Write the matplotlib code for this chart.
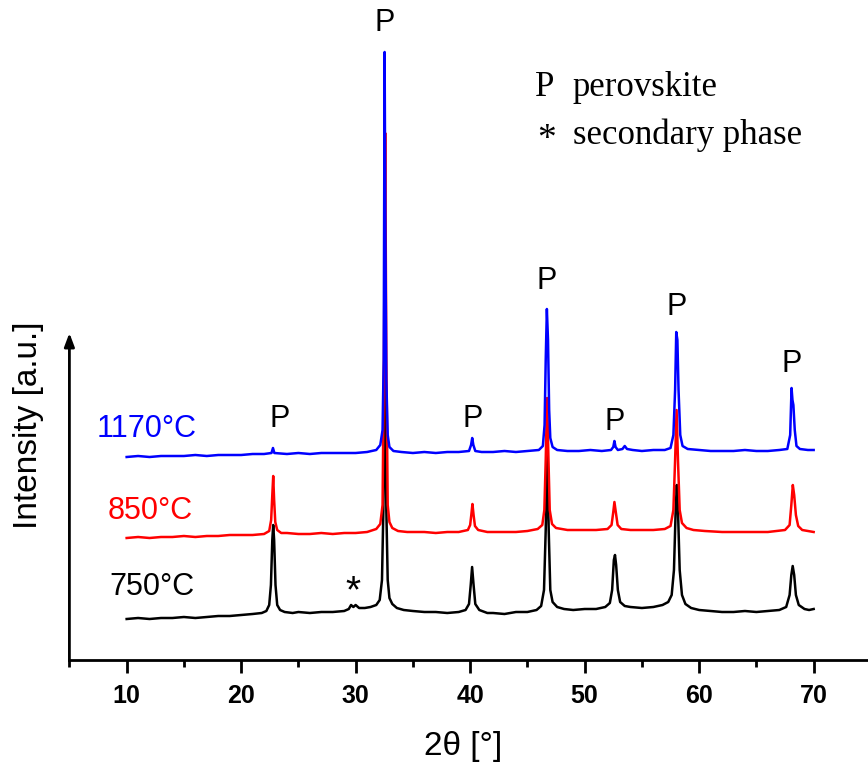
import numpy as np
import matplotlib.pyplot as plt
from matplotlib.ticker import MultipleLocator

plt.rcParams['font.family'] = ['Liberation Sans', 'DejaVu Sans']

# 750 C pattern (black), 2theta and intensity
x750 = [10, 11, 12, 13, 14, 15, 16, 17, 18, 19, 20, 21, 21.8, 22.2, 22.45, 22.6, 22.72,
        22.8, 22.88, 23.0, 23.15, 23.4, 23.8, 24.5, 25, 26, 27, 28, 29, 29.4, 29.6, 29.8,
        30.0, 30.3, 30.8, 31.3, 31.8, 32.1, 32.3, 32.42, 32.55, 32.68, 32.8, 32.95, 33.2,
        33.6, 34.2, 35, 36, 37, 38, 39, 39.6, 39.9, 40.05, 40.17, 40.3, 40.45, 40.8, 41.5,
        42, 43, 44, 45, 45.8, 46.2, 46.45, 46.6, 46.73, 46.86, 47.0, 47.2, 47.6, 48.2, 49,
        50, 51, 51.8, 52.2, 52.4, 52.55, 52.65, 52.75, 52.9, 53.1, 53.5, 54, 55, 56, 56.8,
        57.3, 57.6, 57.8, 57.95, 58.05, 58.15, 58.3, 58.5, 58.8, 59.3, 60, 61, 62, 63, 64,
        65, 66, 67, 67.6, 67.9, 68.05, 68.17, 68.3, 68.45, 68.7, 69.2, 69.6, 70]
y750 = [41, 42, 41, 42, 42, 43, 42, 43, 44, 44, 45, 46, 47, 49, 55, 75, 120,
        135, 120, 75, 55, 50, 48, 47, 48, 47, 48, 48, 49, 51, 55, 53,
        55, 52, 52, 53, 55, 60, 80, 150, 295, 150, 80, 62, 56,
        52, 50, 49, 48, 48, 47, 48, 50, 56, 75, 93, 75, 56, 50, 47,
        47, 46, 48, 48, 50, 54, 70, 130, 205, 130, 70, 58, 53, 51, 50,
        51, 51, 53, 57, 70, 100, 105, 95, 70, 58, 54, 53, 52, 53, 55,
        58, 65, 90, 150, 175, 150, 90, 65, 56, 52, 50, 49, 48, 48, 49,
        48, 49, 50, 53, 65, 85, 94, 85, 65, 55, 51, 50, 51]

# 850 C pattern (red)
x850 = [10, 11, 12, 13, 14, 15, 16, 17, 18, 19, 20, 21, 22, 22.45, 22.62, 22.72, 22.8,
        22.88, 22.98, 23.15, 23.5, 24, 25, 26, 27, 28, 29, 30, 31, 31.8, 32.15, 32.35,
        32.47, 32.58, 32.68, 32.8, 32.95, 33.2, 33.7, 34.5, 36, 37, 38, 39, 39.8, 40.0,
        40.1, 40.2, 40.3, 40.42, 40.7, 41.5, 43, 44, 45, 45.9, 46.3, 46.48, 46.6, 46.72,
        46.84, 46.95, 47.15, 47.5, 48.5, 50, 51, 52, 52.35, 52.5, 52.6, 52.72, 52.88, 53.2,
        54, 55, 56, 57, 57.5, 57.75, 57.9, 58.03, 58.15, 58.3, 58.5, 58.9, 59.5, 60.5, 62,
        64, 66, 67.5, 67.9, 68.05, 68.18, 68.3, 68.45, 68.65, 69, 70]
y850 = [122, 123, 122, 123, 123, 124, 123, 124, 124, 125, 125, 125, 126, 129, 140, 165, 184,
        160, 138, 130, 127, 127, 126, 126, 127, 126, 127, 127, 128, 131, 136, 155,
        300, 527, 300, 155, 138, 132, 129, 128, 128, 127, 128, 128, 130, 135,
        145, 156, 145, 134, 130, 128, 128, 128, 129, 131, 135, 150, 200, 262,
        200, 150, 136, 132, 130, 130, 130, 131, 135, 148, 158, 148, 135, 131,
        130, 130, 130, 131, 134, 150, 200, 250, 200, 150, 137, 132, 130, 129, 128,
        128, 128, 130, 135, 155, 175, 165, 145, 134, 130, 128]

# 1170 C pattern (blue)
x1170 = [10, 11, 12, 13, 14, 15, 16, 17, 18, 19, 20, 21, 22, 22.65, 22.78, 22.9, 24, 25,
         26, 27, 28, 29, 30, 31, 31.8, 32.15, 32.35, 32.45, 32.53, 32.6, 32.68, 32.8,
         32.95, 33.3, 34, 35, 36, 37, 38, 39, 39.9, 40.08, 40.18, 40.28, 40.45, 41, 42,
         43, 44, 45, 46, 46.35, 46.5, 46.6, 46.7, 46.8, 46.9, 47.0, 47.2, 47.6, 48.5, 49.5,
         50.5, 51.5, 52.3, 52.5, 52.6, 52.7, 52.9, 53.3, 53.5, 53.7, 54.2, 55, 56, 57, 57.5,
         57.75, 57.9, 58.0, 58.1, 58.2, 58.35, 58.55, 59, 60, 61, 62, 63, 64, 65, 66, 67,
         67.7, 67.95, 68.07, 68.15, 68.23, 68.35, 68.5, 68.8, 69.5, 70]
y1170 = [203, 204, 203, 204, 204, 204, 205, 204, 205, 205, 205, 206, 206, 207, 212, 207, 206, 207,
         206, 207, 207, 207, 207, 208, 210, 215, 230, 300, 608, 420, 280, 225,
         213, 209, 208, 207, 208, 207, 208, 208, 209, 215, 222, 215, 209, 208, 208,
         209, 208, 209, 210, 214, 235, 300, 351, 320, 250, 222, 213, 210, 209, 209,
         210, 209, 210, 213, 219, 213, 210, 211, 214, 211, 210, 209, 210, 210, 212,
         225, 270, 328, 320, 270, 225, 214, 211, 210, 209, 209, 209, 210, 209, 209, 210,
         211, 225, 272, 260, 255, 230, 214, 211, 210, 210]

temps = ['750°C', '850°C', '1170°C']
colors = ['black', '#ff0000', '#0000ff']
label_x = [8.45, 8.3, 7.4]
label_y = [73, 149, 231]

# perovskite peak markers
p_x = [23.4, 32.56, 40.25, 46.65, 52.6, 58.0, 68.1]
p_y = [241, 637, 241, 379, 238, 353, 296]

fig = plt.figure(figsize=(8.68, 7.67), dpi=100)
ax = fig.add_axes([69.4 / 868, 1 - 660 / 767, 801.5 / 868, 660 / 767])

for xs, ys, c in zip([x750, x850, x1170], [y750, y850, y1170], colors):
    ax.plot(xs, ys, color=c, lw=1.8)

for t, c, lx, ly in zip(temps, colors, label_x, label_y):
    ax.text(lx, ly, t, color=c, fontsize=22, ha='left', va='center')

for px, py in zip(p_x, p_y):
    ax.text(px, py, 'P', fontsize=22, ha='center', va='center')
ax.text(29.75, 68, '*', fontsize=28, ha='center', va='center')

ax.text(45.7, 573, 'P', fontsize=25, family='Liberation Serif', va='center')
ax.text(45.85, 520, '*', fontsize=27, family='Liberation Serif', va='center')
ax.text(48.95, 573, 'perovskite', fontsize=25, family='Liberation Serif', va='center')
ax.text(48.95, 525, 'secondary phase', fontsize=25, family='Liberation Serif', va='center')

ax.set_xlim(5, 75)
ax.set_ylim(0, 660)
for s in ['top', 'right', 'left']:
    ax.spines[s].set_visible(False)
ax.spines['bottom'].set_linewidth(2)
ax.set_yticks([])
ax.xaxis.set_major_locator(MultipleLocator(10))
ax.xaxis.set_minor_locator(MultipleLocator(5))
ax.tick_params(axis='x', which='major', length=9, width=2, pad=8, labelsize=18)
ax.tick_params(axis='x', which='minor', length=5, width=2)
for lab in ax.get_xticklabels():
    lab.set_fontweight('bold')
ax.xaxis.set_major_formatter(plt.FuncFormatter(lambda v, p: '%d' % v if 10 <= v <= 70 else ''))

# y axis drawn as an arrow
ax.annotate('', xy=(5, 327), xytext=(5, -1),
            arrowprops=dict(arrowstyle='-|>,head_length=0.8,head_width=0.3', lw=2, color='black',
                            shrinkA=0, shrinkB=0))

fig.text(463 / 868, 1 - 747 / 767, '2θ [°]', fontsize=24, ha='center', va='center')
fig.text(29 / 868, 1 - 425 / 767, 'Intensity [a.u.]', fontsize=24, rotation=90,
         ha='center', va='center')

fig.savefig('out.png', dpi=100)
